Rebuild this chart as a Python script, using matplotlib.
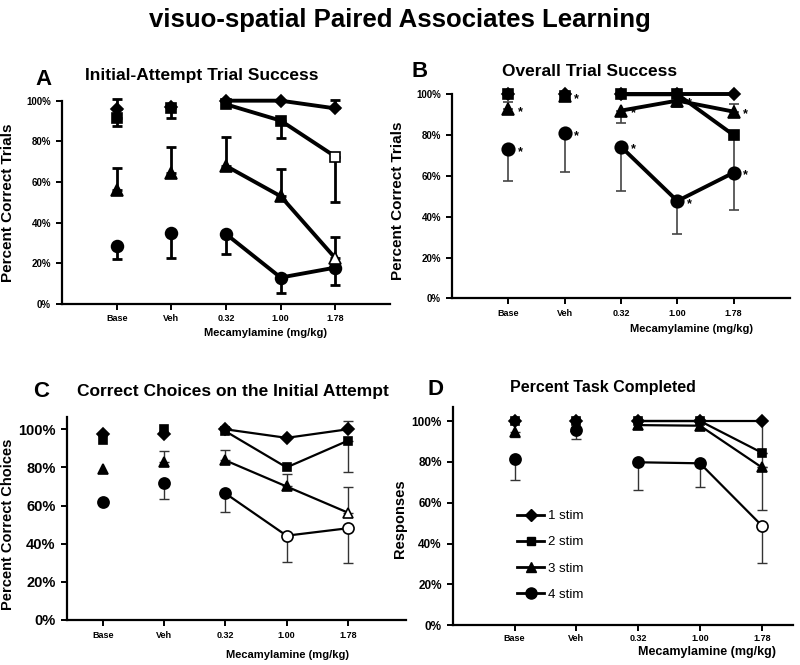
import numpy as np
import matplotlib
matplotlib.use("Agg")
import matplotlib.pyplot as plt
from matplotlib.lines import Line2D

plt.rcParams["font.family"] = ["Liberation Sans Narrow", "Liberation Sans", "DejaVu Sans"]

doses = ["Base", "Veh", "0.32", "1.00", "1.78"]
series_names = ["1 stim", "2 stim", "3 stim", "4 stim"]

# values per panel (percent), order: 1 stim, 2 stim, 3 stim, 4 stim
# *_bar = where the error bar ends (nan = no visible bar)
a_1stim = [95.7, 97.0, 100.0, 100.0, 96.2]
a_2stim = [91.3, 96.2, 98.2, 90.2, 72.5]
a_3stim = [56.0, 64.3, 67.9, 53.0, 22.5]
a_4stim = [28.7, 34.9, 34.4, 13.0, 17.9]
a_1stim_bar = [100.7, np.nan, np.nan, np.nan, 100.2]
a_2stim_bar = [87.4, 91.3, np.nan, 81.8, 50.3]
a_3stim_bar = [66.7, 77.2, 82.3, 66.4, 33.0]
a_4stim_bar = [22.1, 22.8, 24.4, 5.4, 9.3]
a_open = [(1, 4), (2, 4)]

b_1stim = [100.0, 100.0, 100.0, 100.0, 100.0]
b_2stim = [100.0, 99.0, 100.0, 100.0, 80.0]
b_3stim = [92.6, 99.0, 92.0, 96.9, 91.5]
b_4stim = [73.0, 80.9, 74.3, 47.7, 61.6]
b_1stim_bar = [np.nan] * 5
b_2stim_bar = [np.nan, np.nan, np.nan, np.nan, 62.0]
b_3stim_bar = [96.0, np.nan, 85.8, 93.6, 95.1]
b_4stim_bar = [57.6, 61.8, 52.7, 31.5, 43.3]
b_stars = [(3, 0), (2, 0), (3, 1), (1, 1), (3, 2), (2, 2), (3, 3), (2, 3), (3, 4), (2, 4)]

c_1stim = [97.4, 97.6, 100.0, 95.5, 100.0]
c_2stim = [94.4, 100.0, 99.0, 80.0, 94.0]
c_3stim = [79.4, 82.9, 83.7, 70.0, 56.3]
c_4stim = [62.0, 72.0, 66.4, 44.2, 48.1]
c_1stim_bar = [np.nan, np.nan, np.nan, np.nan, 104.4]
c_2stim_bar = [np.nan, np.nan, np.nan, np.nan, 77.8]
c_3stim_bar = [np.nan, 88.6, 89.0, 76.7, 69.9]
c_4stim_bar = [np.nan, 63.6, 56.5, 30.4, 30.0]
c_open = [(2, 4), (3, 3), (3, 4)]

d_1stim = [100.0, 100.0, 100.0, 100.0, 100.0]
d_2stim = [100.0, 100.0, 100.0, 100.0, 84.5]
d_3stim = [94.8, 97.0, 98.0, 97.7, 77.3]
d_4stim = [81.2, 95.6, 79.8, 79.3, 48.8]
d_1stim_bar = [np.nan, np.nan, np.nan, np.nan, 84.5]
d_2stim_bar = [np.nan, np.nan, np.nan, np.nan, 77.3]
d_3stim_bar = [92.3, np.nan, np.nan, np.nan, 56.4]
d_4stim_bar = [71.1, 91.0, 66.2, 67.9, 30.3]
d_open = [(3, 4)]

markers = ["D", "s", "^", "o"]
x = np.arange(1, len(doses) + 1)
WIDE = ["Liberation Sans", "DejaVu Sans"]


def draw_panel(ax, vals, bars, open_pts, lw, elw, ecol, msizes):
    for k in range(3, -1, -1):
        y = np.array(vals[k])
        end = np.array(bars[k])
        ok = ~np.isnan(end)
        lo = np.where(ok & (end < y), y - end, 0)
        hi = np.where(ok & (end > y), end - y, 0)
        ax.errorbar(x[ok], y[ok], yerr=[lo[ok], hi[ok]], fmt="none", ecolor=ecol,
                    elinewidth=elw, capsize=3.5, capthick=elw, zorder=2, clip_on=False)
        ax.plot(x[2:], y[2:], color="black", lw=lw, zorder=3, clip_on=False)
        for i in range(len(doses)):
            face = "white" if (k, i) in open_pts else "black"
            ax.plot(x[i], y[i], marker=markers[k], ms=msizes[k], mfc=face,
                    mec="black", mew=1.2, ls="none", zorder=4, clip_on=False)


def style_axes(ax, xlim, ylim, ytick_size, xpad):
    ax.set_xlim(*xlim)
    ax.set_ylim(*ylim)
    ax.spines["top"].set_visible(False)
    ax.spines["right"].set_visible(False)
    for s in ["left", "bottom"]:
        ax.spines[s].set_linewidth(1.6)
    ax.set_xticks(x)
    ax.set_xticklabels(doses, fontsize=6.5, fontweight="bold", family=WIDE)
    ax.set_yticks(range(0, 101, 20))
    ax.set_yticklabels([f"{v}%" for v in range(0, 101, 20)], fontsize=ytick_size,
                       fontweight="bold", family=WIDE)
    ax.tick_params(direction="out", length=4, width=1.4, pad=4)
    ax.tick_params(axis="x", pad=xpad)


fig = plt.figure(figsize=(8, 6.65), dpi=100)

axA = fig.add_axes([0.0775, 0.5429, 0.41, 0.3057])
draw_panel(axA, [a_1stim, a_2stim, a_3stim, a_4stim],
           [a_1stim_bar, a_2stim_bar, a_3stim_bar, a_4stim_bar], a_open,
           2.8, 2.0, "black", [6.5, 6.5, 8, 8.5])
style_axes(axA, (0, 6), (0, 100), 7, 3)
axA.set_ylabel("Percent Correct Trials", fontsize=11, fontweight="bold", family=WIDE)
axA.yaxis.set_label_coords(-0.143, 0.5)
axA.set_xlabel("Mecamylamine (mg/kg)", fontsize=8, fontweight="bold", family=WIDE)
axA.xaxis.set_label_coords(0.62, -0.117)

axB = fig.add_axes([0.565, 0.5514, 0.4225, 0.3068])
draw_panel(axB, [b_1stim, b_2stim, b_3stim, b_4stim],
           [b_1stim_bar, b_2stim_bar, b_3stim_bar, b_4stim_bar], [],
           2.8, 1.2, "#444444", [6.5, 6.5, 8, 9])
b_vals = [b_1stim, b_2stim, b_3stim, b_4stim]
for k, i in b_stars:
    axB.annotate("*", (x[i], b_vals[k][i]), xytext=(7, -2), textcoords="offset points",
                 fontsize=9, fontweight="bold", va="center", zorder=5)
style_axes(axB, (0, 6), (0, 100), 7, 4)
axB.set_ylabel("Percent Correct Trials", fontsize=11, fontweight="bold", family=WIDE)
axB.yaxis.set_label_coords(-0.139, 0.48)
axB.set_xlabel("Mecamylamine (mg/kg)", fontsize=8, fontweight="bold", family=WIDE)
axB.xaxis.set_label_coords(0.71, -0.128)

axC = fig.add_axes([0.0834, 0.0677, 0.4241, 0.3057])
draw_panel(axC, [c_1stim, c_2stim, c_3stim, c_4stim],
           [c_1stim_bar, c_2stim_bar, c_3stim_bar, c_4stim_bar], c_open,
           1.6, 1.0, "#333333", [6, 6, 7.5, 8])
style_axes(axC, (0.41, 5.95), (0, 106.6), 10.5, 4)
axC.set_ylabel("Percent Correct Choices", fontsize=10.5, fontweight="bold", family=WIDE)
axC.yaxis.set_label_coords(-0.152, 0.47)
axC.set_xlabel("Mecamylamine (mg/kg)", fontsize=8, fontweight="bold", family=WIDE)
axC.xaxis.set_label_coords(0.65, -0.15)

axD = fig.add_axes([0.566, 0.0597, 0.4249, 0.3287])
draw_panel(axD, [d_1stim, d_2stim, d_3stim, d_4stim],
           [d_1stim_bar, d_2stim_bar, d_3stim_bar, d_4stim_bar], d_open,
           1.6, 1.0, "#333333", [6, 6, 7.5, 8])
style_axes(axD, (0, 5.5), (0, 107), 8.5, 2)
axD.set_ylabel("Responses", fontsize=10.5, fontweight="bold", family=WIDE)
axD.yaxis.set_label_coords(-0.135, 0.49)
axD.set_xlabel("Mecamylamine (mg/kg)", fontsize=9, fontweight="bold", family=WIDE)
axD.xaxis.set_label_coords(0.748, -0.095)
handles = [Line2D([], [], color="black", lw=2, marker=m, ms=s, mfc="black")
           for m, s in zip(markers, [6, 6, 7.5, 8])]
axD.legend(handles, series_names, loc="upper left", bbox_to_anchor=(0.19, 0.527),
           frameon=False, fontsize=9.5, handlelength=2.0, handletextpad=0.3,
           labelspacing=1.05, borderpad=0, borderaxespad=0)

fig.text(0.5, 0.97, "visuo-spatial Paired Associates Learning", fontsize=18.5,
         fontweight="bold", ha="center", va="center")
for t, px, py, fs in [("Initial-Attempt Trial Success", 0.2525, 0.887, 12.5),
                      ("Overall Trial Success", 0.7375, 0.893, 12.5),
                      ("Correct Choices on the Initial Attempt", 0.291, 0.411, 12.5),
                      ("Percent Task Completed", 0.754, 0.418, 11.5)]:
    fig.text(px, py, t, fontsize=fs, fontweight="bold", ha="center", va="center")
for t, px, py in [("A", 0.055, 0.881), ("B", 0.525, 0.893),
                  ("C", 0.051, 0.412), ("D", 0.544, 0.414)]:
    fig.text(px, py, t, fontsize=16, fontweight="bold", ha="center", va="center",
             family=WIDE)

fig.savefig("out.png", dpi=100)
